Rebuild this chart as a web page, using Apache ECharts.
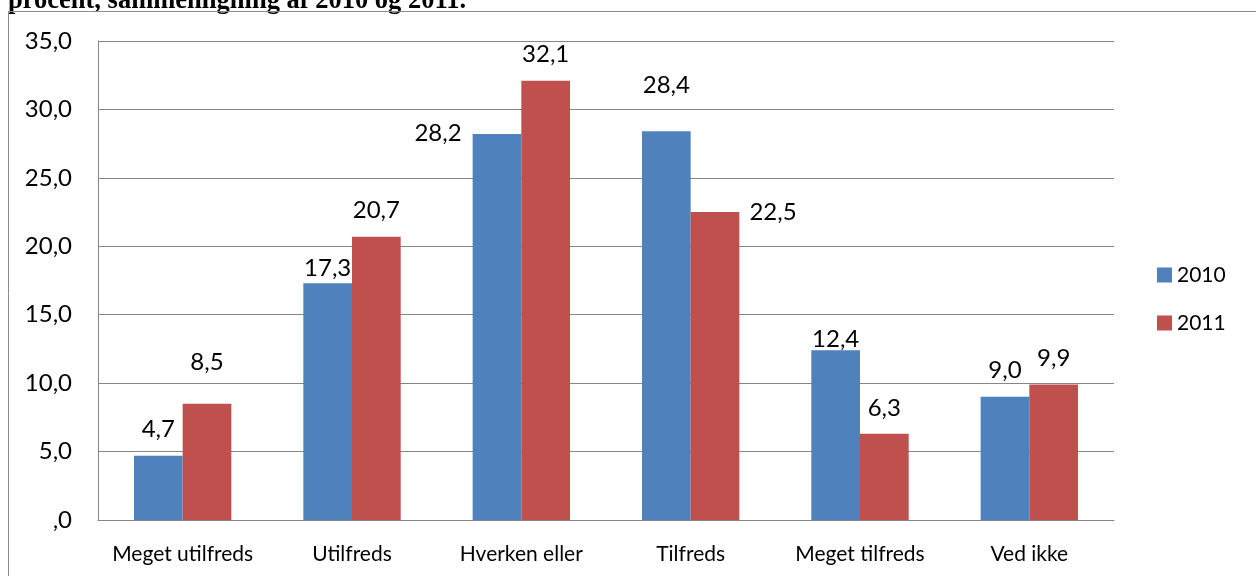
<!DOCTYPE html>
<html>
<head>
<meta charset="utf-8">
<script src="https://cdn.jsdelivr.net/npm/echarts@6/dist/echarts.min.js"></script>
<style>
html,body{margin:0;padding:0;background:#fff;}
#c{width:1256px;height:581px;}
</style>
</head>
<body>
<div id="c"></div>
<script>
const categories = ['Meget utilfreds', 'Utilfreds', 'Hverken eller', 'Tilfreds', 'Meget tilfreds', 'Ved ikke'];
const series2010 = [4.7, 17.3, 28.2, 28.4, 12.4, 9.0];
const series2011 = [8.5, 20.7, 32.1, 22.5, 6.3, 9.9];
const seriesNames = ['2010', '2011'];
const titleText = 'procent, sammenligning af 2010 og 2011.';

// label placement offsets (style only)
const offsets2010 = [[0,-9],[0,2],[-59,16],[0,-29],[0,6],[0,-10]];
const offsets2011 = [[0,-24],[0,-9],[0,-9],[58,17],[0,-9],[0,-9]];

const fmt = v => (v === 0 ? ',0' : v.toFixed(1).replace('.', ','));
const FONT = 'Lato';

function mkData(vals, offs) {
  return vals.map((v, i) => ({ value: v, label: { offset: offs[i] } }));
}

const labelStyle = { show: true, position: 'top', distance: 5, color: '#000', fontSize: 24, fontFamily: FONT, formatter: p => fmt(p.value) };

const chart = echarts.init(document.getElementById('c'));
chart.setOption({
  animation: false,
  textStyle: { fontFamily: FONT },
  graphic: [
    { type: 'text', x: 8, y: 1, style: { text: titleText, font: 'bold 26.5px "Liberation Serif"', fill: '#000', verticalAlign: 'middle' } },
    { type: 'rect', shape: { x: 0, y: 11, width: 1256, height: 1 }, style: { fill: '#fff' }, z: -1 },
    { type: 'line', shape: { x1: 8, y1: 11.5, x2: 1256, y2: 11.5 }, style: { stroke: '#8c8c8c', lineWidth: 1 } },
    { type: 'line', shape: { x1: 8.5, y1: 11, x2: 8.5, y2: 576 }, style: { stroke: '#8c8c8c', lineWidth: 1 } }
  ],
  legend: {
    orient: 'vertical',
    left: 1157,
    top: 264,
    padding: 0,
    itemWidth: 15,
    itemHeight: 15,
    itemGap: 26,
    icon: 'rect',
    textStyle: { fontFamily: FONT, fontSize: 21, color: '#000', lineHeight: 22 },
    data: seriesNames
  },
  grid: { left: 98, right: 142, top: 41, bottom: 61, containLabel: false },
  xAxis: {
    type: 'category',
    data: categories,
    axisTick: { show: false },
    axisLine: { lineStyle: { color: '#868686', width: 1 } },
    axisLabel: { color: '#000', fontSize: 21, fontFamily: FONT, margin: 24, interval: 0 }
  },
  yAxis: {
    type: 'value',
    min: 0, max: 35, interval: 5,
    axisLine: { show: true, lineStyle: { color: '#868686', width: 1 } },
    axisTick: { show: false },
    splitLine: { lineStyle: { color: '#868686', width: 1 } },
    axisLabel: { color: '#000', fontSize: 24, fontFamily: FONT, margin: 26, formatter: fmt }
  },
  series: [
    {
      name: seriesNames[0], type: 'bar', data: mkData(series2010, offsets2010),
      itemStyle: { color: '#4F81BD' }, barGap: '0%', barCategoryGap: '42.5%',
      label: labelStyle
    },
    {
      name: seriesNames[1], type: 'bar', data: mkData(series2011, offsets2011),
      itemStyle: { color: '#C0504D' }, barGap: '0%', barCategoryGap: '42.5%',
      label: labelStyle
    }
  ]
});
</script>
</body>
</html>
